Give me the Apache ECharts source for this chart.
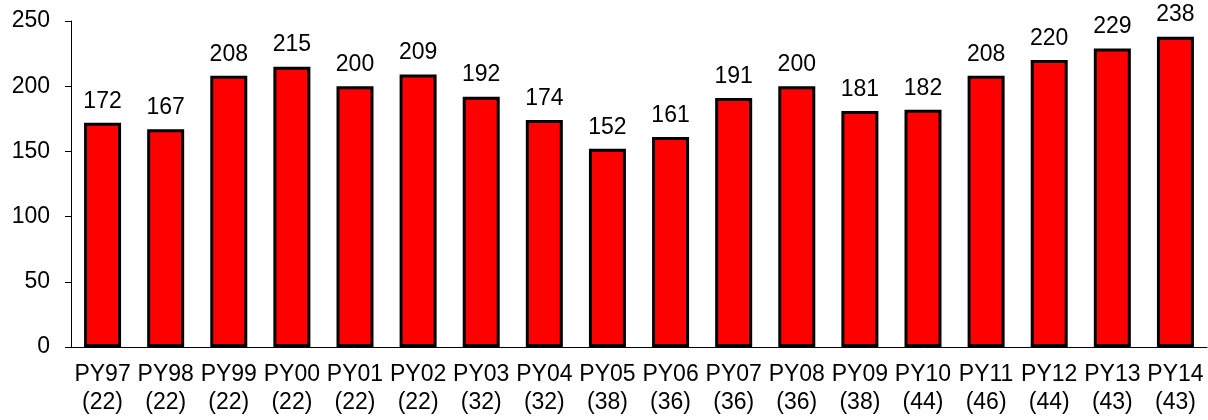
<!DOCTYPE html>
<html>
<head>
<meta charset="utf-8">
<script src="https://cdn.jsdelivr.net/npm/echarts@6/dist/echarts.min.js"></script>
<style>html,body{margin:0;padding:0;background:#fff}#c{width:1208px;height:420px}</style>
</head>
<body>
<div id="c"></div>
<script>
const years = ['PY97','PY98','PY99','PY00','PY01','PY02','PY03','PY04','PY05','PY06','PY07','PY08','PY09','PY10','PY11','PY12','PY13','PY14'];
const counts = [22,22,22,22,22,22,32,32,38,36,36,36,38,44,46,44,43,43];
const values = [172,167,208,215,200,209,192,174,152,161,191,200,181,182,208,220,229,238];
const yTicks = {min:0, max:250, interval:50};

const categories = years.map((y,i)=>y+'\n('+counts[i]+')');
const font = 'Liberation Sans, Arial, sans-serif';
const chart = echarts.init(document.getElementById('c'));
chart.setOption({
  animation:false,
  grid:{left:71, right:1, top:21, bottom:73},
  xAxis:{
    type:'category', data:categories,
    axisLine:{lineStyle:{color:'#000', width:1}},
    axisTick:{length:6, lineStyle:{color:'#000'}},
    axisLabel:{color:'#000', fontSize:23, fontFamily:font, margin:14, lineHeight:28, interval:0}
  },
  yAxis:{
    type:'value', min:yTicks.min, max:yTicks.max, interval:yTicks.interval,
    splitLine:{show:false},
    axisLine:{show:true, lineStyle:{color:'#000', width:1}},
    axisTick:{show:true, length:6, lineStyle:{color:'#000'}},
    axisLabel:{color:'#000', fontSize:23, fontFamily:font, margin:21}
  },
  series:[{
    type:'bar', data:values, barWidth:37,
    itemStyle:{color:'#ff0000', borderColor:'#000', borderWidth:3},
    label:{show:true, position:'top', distance:10, color:'#000', fontSize:23, fontFamily:font}
  }]
});
</script>
</body>
</html>
